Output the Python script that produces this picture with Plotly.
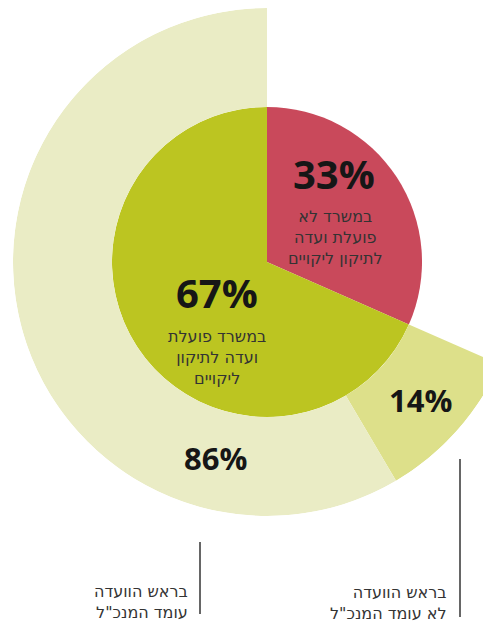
import plotly.graph_objects as go

# inner pie: share of ministries (as drawn)
inner_labels = ["במשרד לא פועלת ועדה לתיקון ליקויים", "במשרד פועלת ועדה לתיקון ליקויים"]
inner_values = [31.6, 68.4]
inner_pct_text = ["33%", "67%"]

# outer ring: split of the "committee exists" slice
outer_labels = ["בראש הוועדה לא עומד המנכ\"ל", "בראש הוועדה עומד המנכ\"ל"]
outer_values = [14.5, 85.5]
outer_pct_text = ["14%", "86%"]

inner_colors = ["#C9495B", "#BCC521"]
outer_colors = ["#DDE08A", "#EAECC5"]

# page body adds an 8px margin; figure is wider than the window so the
# ring gets cut by the window edge on the right
OFF = 8
W, H = 540, 622 - OFF
CX, CY, R_OUT, R_IN = 267, 262, 254, 155   # window pixels


def px(x):
    return (x - OFF) / W


def py(y):
    return 1 - (y - OFF) / H


# angular spans (degrees, clockwise from 12 o'clock)
inner_deg = [v / sum(inner_values) * 360 for v in inner_values]
inner_start = [0, inner_deg[0]]
green_start, green_span = inner_deg[0], inner_deg[1]
outer_deg = [v / sum(outer_values) * green_span for v in outer_values]
outer_start = [green_start, green_start + outer_deg[0]]
hole = R_IN / R_OUT

fig = go.Figure()
fig.add_trace(go.Barpolar(
    r=[hole] * 2,
    base=[0] * 2,
    theta=[s + d / 2 for s, d in zip(inner_start, inner_deg)],
    width=inner_deg,
    marker=dict(color=inner_colors, line=dict(width=0)),
    hovertext=inner_labels,
    hoverinfo="text",
))
fig.add_trace(go.Barpolar(
    r=[1 - hole] * 2,
    base=[hole] * 2,
    theta=[s + d / 2 for s, d in zip(outer_start, outer_deg)],
    width=outer_deg,
    marker=dict(color=outer_colors, line=dict(width=0)),
    hovertext=outer_labels,
    hoverinfo="text",
))

fig.update_layout(
    polar=dict(
        domain=dict(
            x=[px(CX - R_OUT), px(CX + R_OUT)],
            y=[py(CY + R_OUT), py(CY - R_OUT)],
        ),
        bgcolor="rgba(0,0,0,0)",
        barmode="overlay",
        radialaxis=dict(range=[0, 1], visible=False),
        angularaxis=dict(direction="clockwise", rotation=90, visible=False),
    ),
    width=W,
    height=H,
    margin=dict(l=0, r=0, t=0, b=0),
    paper_bgcolor="white",
    showlegend=False,
    font=dict(family="DejaVu Sans", color="#333333"),
)

NUM_FONT = "Open Sans, Lato, DejaVu Sans"
big = dict(family=NUM_FONT, size=40, color="#161616")
mid = dict(family=NUM_FONT, size=31, color="#161616")
heb = dict(family="DejaVu Sans, Open Sans", size=16, color="#333333")

annotations = [
    dict(x=px(334), y=py(173), text="<b>" + inner_pct_text[0] + "</b>", font=big),
    dict(x=px(335), y=py(238), text="במשרד לא<br>פועלת ועדה<br>לתיקון ליקויים", font=heb),
    dict(x=px(217), y=py(292), text="<b>" + inner_pct_text[1] + "</b>", font=big),
    dict(x=px(217), y=py(357), text="במשרד פועלת<br>ועדה לתיקון<br>ליקויים", font=heb),
    dict(x=px(420), y=py(400), text="<b>" + outer_pct_text[0] + "</b>", font=mid),
    dict(x=px(215), y=py(457.5), text="<b>" + outer_pct_text[1] + "</b>", font=mid),
    dict(x=px(449), y=py(602.5), text="בראש הוועדה<br>לא עומד המנכ\"ל", font=heb, xanchor="right"),
    dict(x=px(190), y=py(601.5), text="בראש הוועדה<br>עומד המנכ\"ל", font=heb, xanchor="right"),
]
for a in annotations:
    a.setdefault("xanchor", "center")
    fig.add_annotation(xref="paper", yref="paper", yanchor="middle", showarrow=False,
                       align="center" if a["xanchor"] == "center" else "right", **a)

for x, y0, y1 in [(460, 459, 617), (200, 542, 614)]:
    fig.add_shape(type="line", xref="paper", yref="paper",
                  x0=px(x), x1=px(x), y0=py(y0), y1=py(y1),
                  line=dict(color="#333333", width=1.5))

fig.write_html("out.html")
